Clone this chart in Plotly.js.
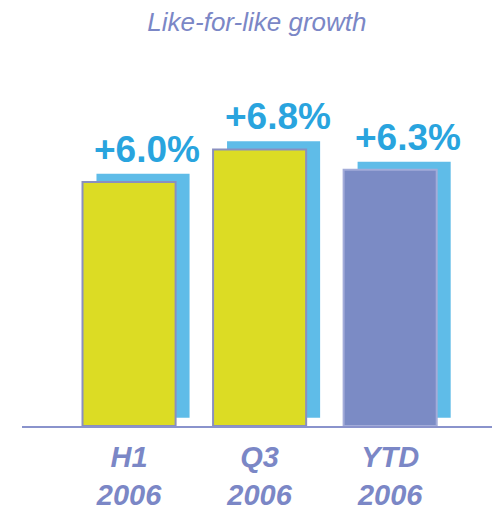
<!DOCTYPE html>
<html>
<head>
<meta charset="utf-8">
<script src="https://cdn.plot.ly/plotly-3.0.1.min.js"></script>
<style>html,body{margin:0;padding:0;background:#fff;}#chart{width:496px;height:517px;}</style>
</head>
<body>
<div id="chart"></div>
<script>
// Data
const categories = ["H1<br>2006", "Q3<br>2006", "YTD<br>2006"];
const growth = [6.0, 6.8, 6.3];
const labels = ["+6.0%", "+6.8%", "+6.3%"];

// Styles
const barColors = ["#dcdc24", "#dcdc24", "#7b8bc5"];
const borderColors = ["#8a8fbf", "#8a8fbf", "#a3acd9"];
const shadowColor = "#5fbce8";
const labelColor = "#29a4de";
const lavender = "#7b87c6";
const FONT = "Arial, 'Liberation Sans', sans-serif";

const barWidth = 0.713;
const shadowDx = 0.107;   // horizontal shadow offset (axis units)
const shadowDy = 0.2;     // vertical shadow offset (axis units)

const shadow = {
  type: "bar",
  x: categories,
  y: growth,
  base: shadowDy,
  width: barWidth,
  offset: -barWidth / 2 + shadowDx,
  marker: { color: shadowColor, line: { width: 0 } },
  hoverinfo: "skip",
  showlegend: false
};

const bars = {
  type: "bar",
  x: categories,
  y: growth,
  width: barWidth,
  offset: -barWidth / 2,
  marker: { color: barColors, line: { color: borderColors, width: 2 } },
  showlegend: false
};

const annotations = categories.map((c, i) => ({
  x: c,
  y: growth[i] + shadowDy,
  xref: "x",
  yref: "y",
  text: labels[i],
  showarrow: false,
  xanchor: "center",
  yanchor: "bottom",
  xshift: 18,
  yshift: 2,
  font: { family: FONT, size: 37, color: labelColor, weight: "bold" }
}));

const layout = {
  width: 496,
  height: 517,
  paper_bgcolor: "#ffffff",
  plot_bgcolor: "#ffffff",
  margin: { l: 22, r: 4, t: 60, b: 91 },
  barmode: "overlay",
  title: {
    text: "Like-for-like growth",
    font: { family: FONT, size: 26, color: lavender, style: "italic" },
    xref: "container",
    yref: "container",
    x: 0.518,
    y: 0.957,
    xanchor: "center",
    yanchor: "middle"
  },
  xaxis: {
    type: "category",
    range: [-0.82, 2.78],
    showline: true,
    linecolor: "#8a93cc",
    linewidth: 2,
    showgrid: false,
    zeroline: false,
    ticks: "outside",
    ticklen: 4,
    tickcolor: "rgba(0,0,0,0)",
    tickfont: { family: FONT, size: 29, color: lavender, weight: "bold", style: "italic" }
  },
  yaxis: {
    range: [0, 9],
    visible: false,
    showgrid: false,
    zeroline: false
  },
  annotations: annotations
};

Plotly.newPlot("chart", [shadow, bars], layout, { displayModeBar: false, staticPlot: true });
</script>
</body>
</html>
